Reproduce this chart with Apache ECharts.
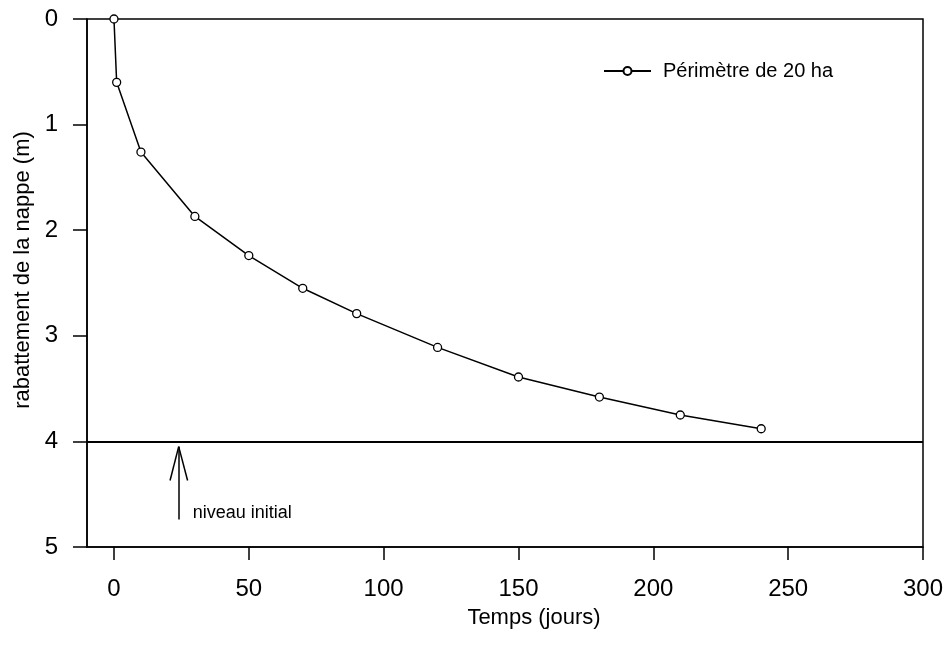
<!DOCTYPE html>
<html>
<head>
    <title>Rabattement de la nappe</title>
    <meta http-equiv="content-type" content="text/html; charset=utf-8">
    <script src="https://cdn.jsdelivr.net/npm/echarts@6/dist/echarts.min.js"></script>
    <style type="text/css">
    html, body { margin: 0; padding: 0; background: #fff; }
    #main { width: 950px; height: 648px; }
    </style>
</head>
<body>
    <div id="main"></div>
    <script type="text/javascript">
    // data
    var temps = [0, 1, 10, 30, 50, 70, 90, 120, 150, 180, 210, 240];
    var rabattement = [0, 0.6, 1.26, 1.87, 2.24, 2.55, 2.79, 3.11, 3.39, 3.58, 3.75, 3.88];
    var xTicks = [0, 50, 100, 150, 200, 250, 300];
    var niveauInitial = 4;
    // arrow "niveau initial": shaft and the two head strokes
    var arrowShaft = [[24, 4.74], [24, 4.05]];
    var arrowHeadLeft = [[20.8, 4.37], [24, 4.05]];
    var arrowHeadRight = [[27.3, 4.37], [24, 4.05]];
    var arrowText = [29.2, 4.68];

    var font = 'Liberation Sans, Arial, sans-serif';
    var myChart = echarts.init(document.getElementById('main'));

    var lineData = [];
    for (var i = 0; i < temps.length; i++) {
        lineData.push([temps[i], rabattement[i]]);
    }

    myChart.setOption({
        animation: false,
        backgroundColor: '#fff',
        textStyle: { fontFamily: font, color: '#000' },
        grid: {
            left: 87, right: 27, top: 19, bottom: 101,
            show: true, borderColor: '#000', borderWidth: 1.5, backgroundColor: 'transparent'
        },
        legend: {
            data: ['Périmètre de 20 ha'],
            left: 598, top: 56,
            itemWidth: 47, itemHeight: 10,
            textStyle: { fontSize: 20, color: '#000', fontFamily: font, padding: [0, 0, 0, 7] }
        },
        xAxis: {
            type: 'value',
            min: -10, max: 300,
            name: 'Temps (jours)',
            nameLocation: 'middle',
            nameGap: 60,
            nameTextStyle: { fontSize: 22, color: '#000', fontFamily: font, padding: [0, 0, 0, 58] },
            axisLine: { show: true, onZero: false, lineStyle: { color: '#000', width: 1.5 } },
            axisTick: { show: true, customValues: xTicks, length: 13, lineStyle: { color: '#000', width: 1.5 } },
            axisLabel: { customValues: xTicks, fontSize: 24, margin: 30, color: '#000', fontFamily: font },
            splitLine: { show: false }
        },
        yAxis: {
            type: 'value',
            inverse: true,
            min: 0, max: 5, interval: 1,
            name: 'rabattement de la nappe (m)',
            nameLocation: 'middle',
            nameGap: 50,
            nameTextStyle: { fontSize: 22, color: '#000', fontFamily: font, padding: [0, 0, 0, 26] },
            axisLine: { show: true, onZero: false, lineStyle: { color: '#000', width: 1.5 } },
            axisTick: { show: true, length: 14, lineStyle: { color: '#000', width: 1.5 } },
            axisLabel: { fontSize: 24, margin: 29, color: '#000', fontFamily: font },
            splitLine: { show: false }
        },
        series: [{
            name: 'Périmètre de 20 ha',
            type: 'line',
            data: lineData,
            smooth: false,
            symbol: 'circle',
            symbolSize: 8,
            itemStyle: { color: '#fff', borderColor: '#000', borderWidth: 1.3 },
            lineStyle: { color: '#000', width: 1.5 },
            markLine: {
                silent: true,
                symbol: ['none', 'none'],
                label: { show: false },
                lineStyle: { color: '#000', width: 2, type: 'solid' },
                data: [{ yAxis: niveauInitial }]
            },
            z: 3
        }, {
            type: 'lines',
            coordinateSystem: 'cartesian2d',
            silent: true,
            lineStyle: { color: '#000', width: 1.5, opacity: 1 },
            data: [
                { coords: arrowShaft },
                { coords: arrowHeadLeft },
                { coords: arrowHeadRight }
            ]
        }, {
            type: 'scatter',
            silent: true,
            symbolSize: 0,
            data: [arrowText],
            label: {
                show: true,
                position: 'right',
                distance: 0,
                formatter: 'niveau initial',
                fontSize: 18,
                color: '#000',
                opacity: 1,
                fontFamily: font
            }
        }]
    });
    </script>
</body>
</html>
